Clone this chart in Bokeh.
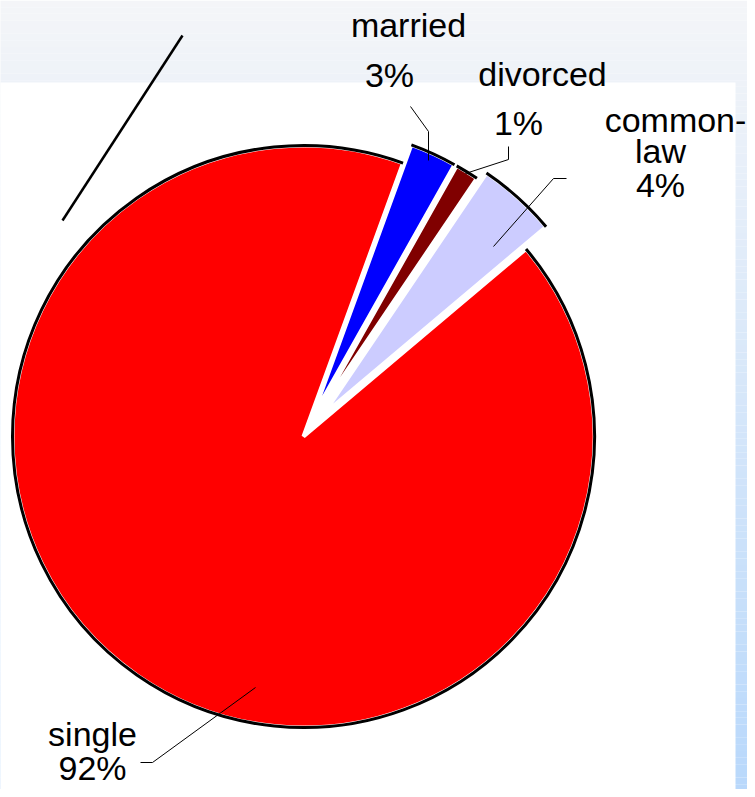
import math
import numpy as np
from bokeh.plotting import figure
from bokeh.models import Range1d
from bokeh.core.properties import value
from bokeh.embed import file_html
from bokeh.resources import INLINE

# ---------------- data ----------------
categories = ["single", "married", "divorced", "common-law"]
shares = [91.7, 2.6, 1.3, 4.4]
pct_labels = ["92%", "3%", "1%", "4%"]

# ---------------- style / layout ----------------
colors = ["#ff0000", "#0000ff", "#800000", "#ccccff"]
explode = [0, 20, 20, 30]
draw_order = [1, 2, 3, 0]          # clockwise from the start angle
start_compass = 20.0               # degrees clockwise from 12 o'clock
FONT = value("Liberation Sans")
FS = "34px"

W, H = 747, 789
def X(xr):                          # picture pixel -> data
    return xr
def Y(yr):
    return H - yr

p = figure(width=W, height=H, x_range=Range1d(0, W), y_range=Range1d(0, H),
           output_backend="svg", toolbar_location=None, min_border=0)
p.axis.visible = False
p.grid.visible = False
p.outline_line_color = None
p.background_fill_color = "#ffffff"
p.border_fill_color = "#ffffff"

# background gradient
n = 120
top = np.array([0xf4, 0xf5, 0xf8], float)
bot = np.array([0xb8, 0xd8, 0xfb], float)
edges = np.linspace(0, 797, n + 1)
bg_cols = []
for k in range(n):
    t = k / (n - 1)
    c = top + (bot - top) * t
    bg_cols.append("#%02x%02x%02x" % tuple(int(round(v)) for v in c))
p.quad(left=-2, right=W + 2,
       top=[Y(e) for e in edges[:-1]], bottom=[Y(e) - 0.01 for e in edges[1:]],
       fill_color=bg_cols, line_color=None)

# white wall
p.quad(left=-2, right=X(735), top=Y(82), bottom=Y(790),
       fill_color="#ffffff", line_color=None)

# stray diagonal line at top-left
p.line([X(182), X(62)], [Y(35), Y(220)], line_color="black", line_width=2.5)

# ---------------- pie ----------------
CX, CY = X(303), Y(436)
R = 291
total = sum(shares)
c = start_compass
geom = {}
for i in draw_order:
    span = shares[i] / total * 360.0
    c1, c2 = c, c + span
    mid = math.radians((c1 + c2) / 2)
    cx = CX + explode[i] * math.sin(mid)
    cy = CY + explode[i] * math.cos(mid)
    sa = math.radians(90 - c2)
    ea = math.radians(90 - c1)
    geom[i] = (cx, cy, sa, ea)
    c = c2

for i in draw_order:
    cx, cy, sa, ea = geom[i]
    p.wedge(x=cx, y=cy, radius=R, start_angle=sa, end_angle=ea,
            fill_color=colors[i], line_color="white", line_width=4)
for i in draw_order:
    cx, cy, sa, ea = geom[i]
    p.arc(x=cx, y=cy, radius=R, start_angle=sa, end_angle=ea,
          line_color="black", line_width=3)

# ---------------- leader lines ----------------
leaders = [
    [(410, 106), (428, 131), (428, 160)],      # married
    [(508, 146), (508, 159), (465, 173)],      # divorced
    [(566, 178), (553, 178), (493, 246)],      # common-law
    [(140, 762), (152, 762), (255, 687)],      # single
]
p.multi_line([[X(a) for a, b in L] for L in leaders],
             [[Y(b) for a, b in L] for L in leaders],
             line_color="black", line_width=1)

# ---------------- labels ----------------
name_lines = {0: ["single"], 1: ["married"], 2: ["divorced"], 3: ["common-", "law"]}
label_pos = {   # (center x, baseline y) per line, last one is the percentage
    0: [(92, 733), (92, 767)],
    1: [(408, 24), (389, 74)],
    2: [(542, 73), (518, 122)],
    3: [(675, 119), (660, 150), (660, 184)],
}
tx, ty, tt = [], [], []
for i in range(len(categories)):
    lines = name_lines[i] + [pct_labels[i]]
    for s, (a, b) in zip(lines, label_pos[i]):
        tx.append(X(a)); ty.append(Y(b)); tt.append(s)
p.text(x=tx, y=ty, text=tt, text_font=FONT, text_font_size=FS,
       text_align="center", text_baseline="alphabetic", text_color="black")

open("out.html", "w").write(file_html(p, INLINE))
